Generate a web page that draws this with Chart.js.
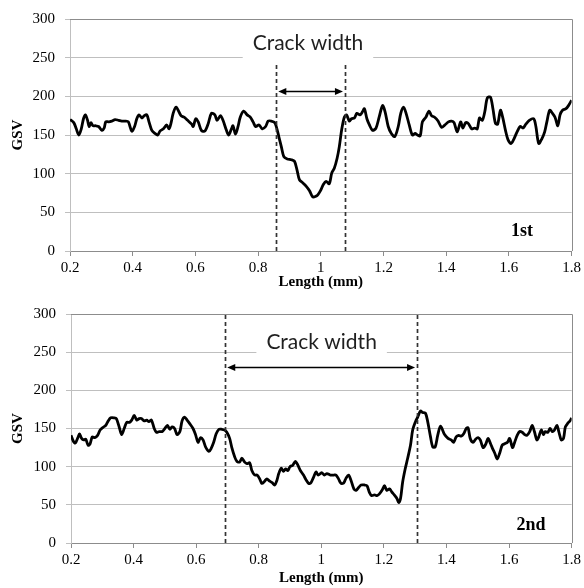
<!DOCTYPE html>
<html>
<head>
<meta charset="utf-8">
<script src="https://cdn.jsdelivr.net/npm/chart.js@4/dist/chart.umd.min.js"></script>
<style>
    html, body { margin: 0; padding: 0; background: #fff; }
    #wrap { position: relative; width: 584px; height: 588px; }
    canvas { position: absolute; left: 0; }
</style>
</head>
<body>
<div id="wrap">
    <canvas id="chart1" width="584" height="292" style="top:0;width:584px;height:292px"></canvas>
    <canvas id="chart2" width="584" height="296" style="top:292px;width:584px;height:296px"></canvas>
</div>
<script>
// Axis ticks
const lengthTicks = [0.2, 0.4, 0.6, 0.8, 1, 1.2, 1.4, 1.6, 1.8];
const gsvTicks = [0, 50, 100, 150, 200, 250, 300];

// 1st scan profile
const len1 = [
    0.200, 0.212, 0.220, 0.228, 0.236, 0.243, 0.249, 0.256, 0.261, 0.267, 0.273, 0.281, 0.291, 0.302, 0.309, 0.314,
    0.323, 0.333, 0.344, 0.355, 0.365, 0.376, 0.386, 0.397, 0.406, 0.413, 0.420, 0.429, 0.437, 0.445, 0.452, 0.461,
    0.471, 0.480, 0.487, 0.498, 0.508, 0.516, 0.522, 0.529, 0.538, 0.545, 0.554, 0.564, 0.575, 0.588, 0.593, 0.601,
    0.609, 0.619, 0.630, 0.641, 0.651, 0.662, 0.669, 0.680, 0.688, 0.699, 0.706, 0.715, 0.720, 0.728, 0.736, 0.743,
    0.754, 0.765, 0.775, 0.784, 0.792, 0.803, 0.813, 0.824, 0.832, 0.842, 0.853, 0.860, 0.866, 0.874, 0.882, 0.893,
    0.906, 0.916, 0.924, 0.932, 0.943, 0.953, 0.964, 0.974, 0.985, 0.991, 0.999, 1.008, 1.017, 1.027, 1.035, 1.043,
    1.052, 1.059, 1.067, 1.075, 1.082, 1.091, 1.098, 1.107, 1.115, 1.125, 1.133, 1.139, 1.147, 1.155, 1.165, 1.176,
    1.186, 1.197, 1.205, 1.215, 1.225, 1.236, 1.247, 1.255, 1.264, 1.272, 1.282, 1.292, 1.301, 1.308, 1.317, 1.324,
    1.335, 1.345, 1.353, 1.363, 1.374, 1.385, 1.396, 1.407, 1.417, 1.425, 1.435, 1.446, 1.453, 1.462, 1.470, 1.481,
    1.491, 1.499, 1.506, 1.515, 1.523, 1.531, 1.541, 1.549, 1.557, 1.564, 1.573, 1.580, 1.589, 1.597, 1.607, 1.615,
    1.626, 1.636, 1.645, 1.654, 1.665, 1.679, 1.686, 1.695, 1.705, 1.714, 1.721, 1.730, 1.739, 1.747, 1.756, 1.763,
    1.771, 1.782, 1.790, 1.800
];
const gsv1 = [
    170, 166, 158, 150, 158, 171, 176, 169, 161, 166, 162, 162, 161, 156, 159, 167,
    167, 168, 170, 169, 168, 168, 167, 155, 161, 171, 176, 172, 175, 176, 167, 156,
    152, 150, 155, 158, 163, 158, 165, 178, 186, 182, 175, 173, 169, 164, 161, 171,
    167, 156, 155, 165, 178, 176, 169, 175, 169, 156, 150, 158, 162, 151, 161, 173,
    181, 176, 173, 167, 161, 163, 158, 161, 168, 168, 166, 158, 148, 135, 122, 119,
    118, 116, 105, 92, 88, 84, 78, 70, 71, 73, 78, 86, 90, 87, 101, 107,
    120, 135, 158, 173, 176, 168, 171, 172, 178, 176, 180, 184, 171, 163, 156, 159,
    173, 188, 180, 161, 152, 148, 161, 178, 186, 178, 163, 150, 152, 150, 149, 167,
    173, 181, 175, 173, 168, 160, 163, 167, 168, 166, 154, 167, 159, 166, 165, 158,
    159, 158, 172, 169, 180, 198, 199, 184, 165, 164, 182, 173, 156, 144, 139, 144,
    154, 161, 159, 164, 169, 171, 161, 139, 145, 154, 167, 182, 178, 173, 162, 176,
    182, 184, 188, 195
];

// 2nd scan profile
const len2 = [
    0.200, 0.208, 0.214, 0.222, 0.227, 0.234, 0.241, 0.247, 0.255, 0.261, 0.268, 0.276, 0.285, 0.293, 0.304, 0.311,
    0.319, 0.327, 0.338, 0.345, 0.354, 0.362, 0.370, 0.378, 0.387, 0.394, 0.402, 0.410, 0.418, 0.425, 0.434, 0.442,
    0.449, 0.457, 0.466, 0.473, 0.482, 0.492, 0.500, 0.508, 0.516, 0.523, 0.531, 0.539, 0.548, 0.555, 0.563, 0.571,
    0.580, 0.590, 0.598, 0.606, 0.614, 0.622, 0.630, 0.641, 0.648, 0.656, 0.664, 0.673, 0.682, 0.691, 0.698, 0.707,
    0.714, 0.723, 0.730, 0.739, 0.746, 0.755, 0.762, 0.771, 0.778, 0.787, 0.795, 0.803, 0.810, 0.819, 0.826, 0.835,
    0.843, 0.851, 0.858, 0.864, 0.872, 0.879, 0.886, 0.893, 0.900, 0.909, 0.917, 0.925, 0.933, 0.943, 0.951, 0.960,
    0.967, 0.975, 0.983, 0.990, 1.001, 1.010, 1.018, 1.029, 1.040, 1.047, 1.055, 1.063, 1.072, 1.079, 1.087, 1.095,
    1.104, 1.111, 1.120, 1.127, 1.138, 1.146, 1.154, 1.161, 1.170, 1.178, 1.185, 1.194, 1.202, 1.209, 1.218, 1.225,
    1.233, 1.242, 1.247, 1.253, 1.260, 1.268, 1.276, 1.285, 1.292, 1.301, 1.308, 1.317, 1.324, 1.333, 1.340, 1.349,
    1.356, 1.364, 1.372, 1.381, 1.394, 1.405, 1.415, 1.423, 1.431, 1.439, 1.447, 1.455, 1.463, 1.469, 1.476, 1.485,
    1.493, 1.501, 1.508, 1.517, 1.525, 1.533, 1.541, 1.547, 1.555, 1.562, 1.571, 1.578, 1.586, 1.595, 1.602, 1.611,
    1.618, 1.626, 1.634, 1.642, 1.650, 1.657, 1.666, 1.674, 1.681, 1.689, 1.695, 1.703, 1.710, 1.716, 1.724, 1.731,
    1.738, 1.745, 1.753, 1.759, 1.767, 1.774, 1.780, 1.788, 1.795, 1.800
];
const gsv2 = [
    141, 133, 131, 138, 143, 137, 135, 136, 128, 130, 139, 138, 141, 148, 152, 154,
    160, 164, 164, 163, 152, 142, 150, 158, 158, 161, 167, 161, 163, 163, 160, 161,
    159, 161, 150, 145, 146, 146, 150, 154, 149, 152, 150, 142, 146, 160, 165, 161,
    156, 150, 142, 132, 138, 135, 126, 120, 124, 132, 143, 149, 149, 148, 145, 137,
    125, 113, 107, 106, 111, 106, 104, 105, 95, 89, 89, 84, 78, 81, 84, 81,
    79, 76, 82, 91, 98, 94, 97, 95, 100, 102, 107, 102, 95, 89, 83, 78,
    79, 86, 93, 89, 92, 89, 91, 89, 89, 89, 84, 78, 79, 85, 89, 82,
    71, 69, 73, 76, 76, 75, 66, 62, 63, 62, 64, 69, 75, 69, 71, 67,
    63, 58, 53, 58, 80, 97, 111, 128, 148, 159, 165, 173, 171, 170, 159, 139,
    126, 126, 141, 153, 142, 137, 135, 132, 139, 141, 140, 143, 150, 151, 137, 132,
    136, 138, 135, 125, 129, 137, 130, 124, 117, 110, 119, 128, 130, 132, 137, 125,
    132, 141, 146, 145, 142, 141, 146, 154, 146, 135, 139, 148, 142, 146, 145, 150,
    146, 148, 154, 146, 135, 137, 152, 157, 160, 164
];

// Crack edges (mm)
const crack1 = [0.858, 1.077];
const crack2 = [0.693, 1.306];

const serif = '"Liberation Serif", "Times New Roman", serif';

// Crack marks, label box, tag and plot frame
const crackPlugin = {
    id: 'crackMarks',
    afterDatasetsDraw(chart, args, opts) {
        const { ctx, chartArea: a, scales: { x, y } } = chart;
        ctx.save();

        // dashed edges
        ctx.strokeStyle = '#333';
        ctx.lineWidth = 1.7;
        ctx.setLineDash([4, 3]);
        opts.crack.forEach(v => {
            const px = Math.round(x.getPixelForValue(v)) + 0.5;
            ctx.beginPath();
            ctx.moveTo(px, y.getPixelForValue(0));
            ctx.lineTo(px, y.getPixelForValue(opts.dashTop));
            ctx.stroke();
        });
        ctx.setLineDash([]);

        // double arrow
        const ay = Math.round(y.getPixelForValue(opts.arrowAt)) + 0.5;
        const x0 = x.getPixelForValue(opts.crack[0]) + 2;
        const x1 = x.getPixelForValue(opts.crack[1]) - 2;
        ctx.strokeStyle = '#000';
        ctx.fillStyle = '#000';
        ctx.lineWidth = 1.3;
        ctx.beginPath();
        ctx.moveTo(x0 + 5, ay);
        ctx.lineTo(x1 - 5, ay);
        ctx.stroke();
        [[x0, 1], [x1, -1]].forEach(([px, d]) => {
            ctx.beginPath();
            ctx.moveTo(px, ay);
            ctx.lineTo(px + d * 8, ay - 3.5);
            ctx.lineTo(px + d * 8, ay + 3.5);
            ctx.closePath();
            ctx.fill();
        });

        // "Crack width" with white box
        ctx.font = '21px Lato, "Open Sans", sans-serif';
        const tw = ctx.measureText(opts.text).width;
        const tx = x.getPixelForValue(opts.textAt[0]);
        const ty = y.getPixelForValue(opts.textAt[1]);
        ctx.fillStyle = '#fff';
        ctx.fillRect(tx - tw / 2 - 10, ty - 19, tw + 20, 39);
        ctx.fillStyle = '#1f1f1f';
        ctx.textAlign = 'center';
        ctx.textBaseline = 'middle';
        ctx.fillText(opts.text, tx, ty + 1);

        // scan tag
        ctx.font = 'bold 18px ' + serif;
        ctx.fillStyle = '#000';
        ctx.fillText(opts.tag, x.getPixelForValue(opts.tagAt[0]), y.getPixelForValue(opts.tagAt[1]));

        // top and right frame
        ctx.strokeStyle = '#8c8c8c';
        ctx.lineWidth = 1;
        ctx.beginPath();
        ctx.moveTo(a.left, Math.round(a.top) + 0.5);
        ctx.lineTo(Math.round(a.right) + 0.5, Math.round(a.top) + 0.5);
        ctx.lineTo(Math.round(a.right) + 0.5, a.bottom);
        ctx.stroke();
        ctx.restore();
    }
};

function makeChart(id, lens, vals, cfg) {
    const ctx = document.getElementById(id).getContext('2d');
    return new Chart(ctx, {
        type: 'line',
        data: {
            datasets: [{
                data: lens.map((v, i) => ({ x: v, y: vals[i] })),
                borderColor: '#000',
                borderWidth: 2.8,
                pointRadius: 0,
                tension: 0.3,
                fill: false
            }]
        },
        options: {
            responsive: false,
            animation: false,
            events: [],
            layout: { padding: { left: 0, right: cfg.padRight, top: cfg.padTop, bottom: 0 } },
            plugins: {
                legend: { display: false },
                tooltip: { enabled: false },
                crackMarks: cfg.marks
            },
            scales: {
                x: {
                    type: 'linear',
                    min: 0.2,
                    max: 1.8,
                    afterBuildTicks: ax => { ax.ticks = lengthTicks.map(v => ({ value: v })); },
                    afterFit: ax => { ax.height = cfg.xAxisH; },
                    grid: { drawOnChartArea: false, drawTicks: true, tickLength: 5, color: '#8c8c8c' },
                    border: { color: '#8c8c8c' },
                    ticks: {
                        font: { family: serif, size: 15 },
                        color: '#000',
                        padding: 3,
                        maxRotation: 0,
                        autoSkip: false,
                        callback: v => String(v)
                    },
                    title: {
                        display: true,
                        text: 'Length (mm)',
                        font: { family: serif, size: 15, weight: 'bold' },
                        color: '#000',
                        padding: { top: 0, bottom: 1 }
                    }
                },
                y: {
                    min: 0,
                    max: 300,
                    afterBuildTicks: ax => { ax.ticks = gsvTicks.map(v => ({ value: v })); },
                    afterFit: ax => { ax.width = cfg.yAxisW; },
                    grid: { color: '#bfbfbf', tickLength: 5 },
                    border: { color: '#bfbfbf' },
                    ticks: {
                        font: { family: serif, size: 15 },
                        color: '#000',
                        padding: 10
                    },
                    title: {
                        display: true,
                        text: 'GSV',
                        font: { family: serif, size: 15, weight: 'bold' },
                        color: '#000',
                        padding: { top: 9, bottom: 0 }
                    }
                }
            }
        },
        plugins: [crackPlugin]
    });
}

makeChart('chart1', len1, gsv1, {
    padTop: 19, padRight: 11, yAxisW: 70, xAxisH: 41,
    marks: {
        crack: crack1, dashTop: 245, arrowAt: 207,
        text: 'Crack width', textAt: [0.959, 270],
        tag: '1st', tagAt: [1.642, 25]
    }
});

makeChart('chart2', len2, gsv2, {
    padTop: 22, padRight: 12, yAxisW: 71, xAxisH: 45,
    marks: {
        crack: crack2, dashTop: 300, arrowAt: 230,
        text: 'Crack width', textAt: [1.001, 264],
        tag: '2nd', tagAt: [1.67, 23]
    }
});
</script>
</body>
</html>
